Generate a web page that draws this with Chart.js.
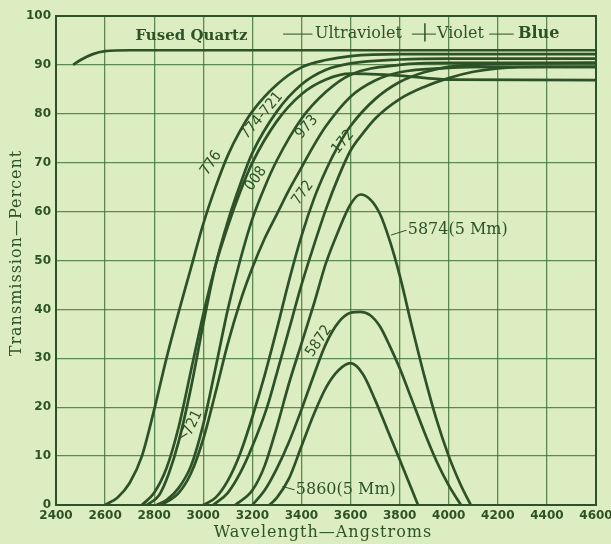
<!DOCTYPE html>
<html>
<head>
<meta charset="utf-8">
<script src="https://cdn.jsdelivr.net/npm/chart.js@4"></script>
<style>
  html, body { margin: 0; padding: 0; background: #dcedc2; }
  #wrap { width: 611px; height: 544px; }
</style>
</head>
<body>
<div id="wrap"><canvas id="chart" width="611" height="544"></canvas></div>
<script>
// wavelength (Angstroms) / transmission (percent)
const quartzWl = [2470, 2500, 2550, 2600, 2700, 4600];
const quartzT = [90, 91, 92.2, 92.8, 93, 93];

const f776Wl = [2600, 2650, 2700, 2750, 2800, 2850, 2900, 2950, 3000, 3050, 3100, 3150, 3200, 3300, 3400, 3500, 3600, 3800, 4600];
const f776T = [0, 1.5, 4.5, 10, 19.5, 30, 39.5, 48.5, 57.5, 65, 71.5, 76.5, 80.5, 86, 89.5, 91, 91.8, 92.2, 92.2];

const f721Wl = [2750, 2800, 2850, 2900, 2950, 3000, 3050, 3100, 3150, 3200, 3300, 3400, 3500, 3600, 3800, 4000, 4600];
const f721T = [0, 2.5, 7.5, 16, 27.5, 39, 49, 57, 64, 70, 78.5, 84, 87, 88.2, 87.8, 87, 86.9];

const f774Wl = [2770, 2820, 2860, 2900, 2950, 3000, 3050, 3100, 3150, 3200, 3300, 3400, 3500, 3600, 3800, 4000, 4600];
const f774T = [0, 2, 6.5, 13, 24, 37, 49, 58, 65.5, 72, 80.5, 86, 89, 90.3, 91.1, 91.3, 91.3];

const f008Wl = [2810, 2850, 2900, 2950, 3000, 3050, 3100, 3150, 3200, 3250, 3300, 3400, 3500, 3600, 3800, 4000, 4600];
const f008T = [0, 1, 3.5, 8, 16.5, 28, 40, 50, 58.5, 65, 70.5, 79, 84.5, 88, 90, 90.4, 90.4];

const f973Wl = [2830, 2900, 2950, 3000, 3050, 3100, 3150, 3200, 3250, 3300, 3350, 3400, 3450, 3500, 3600, 3700, 3800, 4000, 4200, 4600];
const f973T = [0, 2.5, 6.5, 13.5, 23, 33, 41.5, 48.5, 54.5, 59.5, 64.5, 69, 73.5, 77.5, 83.5, 86.8, 88.5, 89.4, 89.6, 89.6];

const f772Wl = [3000, 3050, 3100, 3150, 3200, 3250, 3300, 3350, 3400, 3450, 3500, 3550, 3600, 3700, 3800, 3900, 4000, 4200, 4600];
const f772T = [0, 1.5, 5, 10.5, 18, 26.5, 36, 46, 55, 62.5, 68.5, 73.5, 77.5, 83, 86.5, 88.5, 89.6, 90.2, 90.4];

const f172Wl = [3040, 3100, 3150, 3200, 3260, 3300, 3350, 3400, 3450, 3500, 3550, 3600, 3650, 3700, 3800, 3900, 4000, 4100, 4200, 4400, 4600];
const f172T = [0, 2.5, 6.5, 12, 20, 27, 36, 45, 53, 60.5, 67, 72.5, 76, 79, 83, 85.5, 87.3, 88.6, 89.3, 89.6, 89.6];

const b5874Wl = [3130, 3200, 3250, 3300, 3350, 3400, 3450, 3500, 3550, 3600, 3640, 3680, 3720, 3760, 3800, 3850, 3900, 3950, 4000, 4050, 4090];
const b5874T = [0, 3, 8, 16, 25, 33, 41, 49.5, 56, 61.5, 63.5, 62.5, 59.5, 54, 47, 36.5, 26.5, 17.5, 10, 4, 0];

const b5872Wl = [3200, 3250, 3300, 3350, 3400, 3450, 3500, 3550, 3600, 3640, 3680, 3720, 3760, 3800, 3850, 3900, 3950, 4000, 4050];
const b5872T = [0, 3, 7.5, 13, 19.5, 26.5, 33, 37.3, 39.3, 39.5, 38.8, 36.5, 32.5, 28, 21.5, 15, 9, 4, 0];

const b5860Wl = [3270, 3300, 3350, 3400, 3450, 3500, 3550, 3600, 3650, 3700, 3750, 3800, 3850, 3875];
const b5860T = [0, 1.5, 5.5, 12, 18.5, 24, 27.5, 29, 26.8, 21.5, 15.4, 9.3, 3.1, 0];

const xTicks = [2400, 2600, 2800, 3000, 3200, 3400, 3600, 3800, 4000, 4200, 4400, 4600];
const yTicks = [0, 10, 20, 30, 40, 50, 60, 70, 80, 90, 100];

// curve labels: text, wavelength, transmission, angle (deg)
const curveLabels = [
  ["776", 3032, 69.9, -56],
  ["774-721", 3239, 79.6, -50],
  ["008", 3215, 66.7, -55],
  ["973", 3422, 77.3, -48],
  ["772", 3406, 63.8, -54],
  ["172", 3569, 74.2, -50],
  ["721", 2958, 16.8, -64],
  ["5872", 3471, 33.5, -56]
];

const INK = "#2d5228";
const GRID = "rgba(62,112,52,0.8)";
const BG = "#dcedc2";

const pts = (wl, t) => wl.map((w, i) => ({ x: w, y: t[i] }));

const series = [
  [quartzWl, quartzT], [f776Wl, f776T], [f721Wl, f721T], [f774Wl, f774T],
  [f008Wl, f008T], [f973Wl, f973T], [f772Wl, f772T], [f172Wl, f172T],
  [b5874Wl, b5874T], [b5872Wl, b5872T], [b5860Wl, b5860T]
];

const datasets = series.map(([wl, t]) => ({
  data: pts(wl, t),
  borderColor: INK,
  borderWidth: 2.7,
  pointRadius: 0,
  fill: false,
  cubicInterpolationMode: "monotone"
}));

const serif = "'DejaVu Serif', 'Liberation Serif', serif";

const plateText = {
  id: "plateText",
  beforeDraw(chart) {
    const { ctx } = chart;
    ctx.save();
    ctx.fillStyle = BG;
    ctx.fillRect(0, 0, chart.width, chart.height);
    ctx.restore();
  },
  afterDatasetsDraw(chart) {
    const { ctx, chartArea: a } = chart;
    const xs = chart.scales.x, ys = chart.scales.y;
    const px = (w) => xs.getPixelForValue(w);
    const py = (t) => ys.getPixelForValue(t);
    ctx.save();
    // frame
    ctx.strokeStyle = INK;
    ctx.lineWidth = 2;
    ctx.strokeRect(a.left, a.top, a.right - a.left, a.bottom - a.top);

    ctx.fillStyle = INK;
    // curve numbers
    ctx.font = "15px 'DejaVu Sans Condensed', 'DejaVu Sans', sans-serif";
    ctx.textAlign = "center";
    ctx.textBaseline = "middle";
    curveLabels.forEach(([txt, w, t, ang]) => {
      ctx.save();
      ctx.translate(px(w), py(t));
      ctx.rotate(ang * Math.PI / 180);
      ctx.fillText(txt, 0, 0);
      ctx.restore();
    });
    // arrow tick on the 721 label
    ctx.strokeStyle = INK;
    ctx.lineWidth = 1.2;
    ctx.beginPath();
    ctx.moveTo(px(2935), py(14.6));
    ctx.lineTo(px(2905), py(13.7));
    ctx.stroke();

    // header band
    ctx.font = "bold 15px " + serif;
    ctx.textAlign = "center";
    ctx.fillText("Fused Quartz", px(2952), py(95.8));
    ctx.textAlign = "left";
    ctx.font = "16px " + serif;
    ctx.fillText("Ultraviolet", px(3455), py(96.4));
    ctx.fillText("Violet", px(3952), py(96.4));
    ctx.font = "bold 16px " + serif;
    ctx.fillText("Blue", px(4282), py(96.4));
    ctx.lineWidth = 1;
    const yb = py(96.3);
    [[3325, 3445], [3850, 3948], [4165, 4265]].forEach(([w0, w1]) => {
      ctx.beginPath();
      ctx.moveTo(px(w0), yb);
      ctx.lineTo(px(w1), yb);
      ctx.stroke();
    });
    ctx.lineWidth = 1.5;
    ctx.beginPath();
    ctx.moveTo(px(3903), py(98.5));
    ctx.lineTo(px(3903), py(94.8));
    ctx.stroke();

    // 5874 / 5860 callouts
    ctx.font = "16px " + serif;
    ctx.textBaseline = "middle";
    ctx.fillText("5874(5 Mm)", px(3833), py(56.2));
    ctx.fillText("5860(5 Mm)", px(3377), py(3.1));
    ctx.lineWidth = 1;
    ctx.beginPath();
    ctx.moveTo(px(3765), py(55.2));
    ctx.lineTo(px(3828), py(56.2));
    ctx.moveTo(px(3322), py(3.8));
    ctx.lineTo(px(3372), py(3.1));
    ctx.stroke();

    // axis titles
    ctx.font = "16px " + serif;
    ctx.letterSpacing = "1px";
    ctx.textAlign = "center";
    ctx.fillText("Wavelength\u2014Angstroms", 323, 533);
    ctx.save();
    ctx.translate(17, 253);
    ctx.rotate(-Math.PI / 2);
    ctx.fillText("Transmission\u2014Percent", 0, 0);
    ctx.restore();
    ctx.restore();
  }
};

new Chart(document.getElementById("chart"), {
  type: "line",
  data: { datasets },
  plugins: [plateText],
  options: {
    responsive: false,
    animation: false,
    layout: { padding: { left: 0, right: 15, top: 16, bottom: 0 } },
    plugins: { legend: { display: false }, tooltip: { enabled: false } },
    scales: {
      x: {
        type: "linear",
        min: 2400,
        max: 4600,
        afterBuildTicks: (s) => { s.ticks = xTicks.map((v) => ({ value: v })); },
        afterFit: (s) => { s.height = 39; s.paddingLeft = 0; s.paddingRight = 0; },
        grid: { color: GRID, lineWidth: 1.3, tickLength: 0 },
        border: { display: false },
        ticks: {
          color: INK,
          padding: 4,
          maxRotation: 0,
          font: { family: "'DejaVu Sans', sans-serif", size: 12, weight: "bold" },
          callback: (v) => String(v)
        }
      },
      y: {
        min: 0,
        max: 100,
        afterBuildTicks: (s) => { s.ticks = yTicks.map((v) => ({ value: v })); },
        afterFit: (s) => { s.width = 56; s.paddingTop = 0; s.paddingBottom = 0; },
        grid: { color: GRID, lineWidth: 1.3, tickLength: 0 },
        border: { display: false },
        ticks: {
          color: INK,
          padding: 5,
          font: { family: "'DejaVu Sans', sans-serif", size: 12, weight: "bold" },
          callback: (v) => String(v)
        }
      }
    }
  }
});
</script>
</body>
</html>
